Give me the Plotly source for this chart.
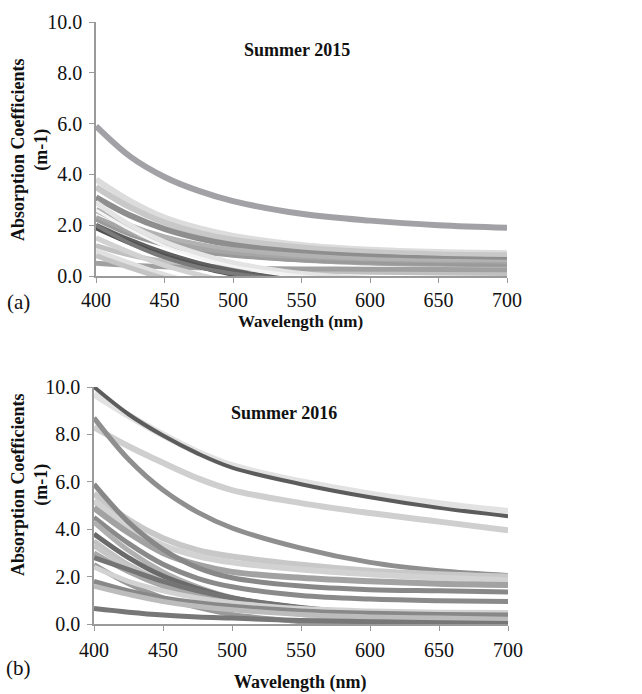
import plotly.graph_objects as go

wl = [400, 425, 450, 475, 500, 550, 600, 650, 700]

# Summer 2015 spectra (absorption coefficient, m-1) read at wl
s15 = [
    [5.9, 4.7, 3.9, 3.35, 2.95, 2.45, 2.18, 2.0, 1.9],
    [3.8, 2.95, 2.3, 1.88, 1.58, 1.22, 1.03, 0.94, 0.9],
    [3.5, 2.7, 2.1, 1.7, 1.43, 1.12, 0.94, 0.85, 0.82],
    [3.1, 2.38, 1.85, 1.48, 1.22, 0.93, 0.77, 0.68, 0.63],
    [2.6, 1.97, 1.52, 1.22, 1.01, 0.78, 0.63, 0.56, 0.52],
    [2.3, 1.76, 1.36, 1.07, 0.87, 0.63, 0.51, 0.46, 0.44],
    [2.2, 1.6, 1.2, 0.94, 0.78, 0.6, 0.51, 0.45, 0.42],
    [1.2, 0.82, 0.57, 0.42, 0.32, 0.21, 0.15, 0.12, 0.1],
    [0.5, 0.42, 0.36, 0.32, 0.3, 0.28, 0.27, 0.26, 0.25],
    [2.9, 2.0, 1.35, 0.88, 0.52, 0.1, -0.1, -0.2, -0.3],
    [2.0, 1.4, 0.9, 0.5, 0.2, -0.2, -0.4, -0.5, -0.6],
    [1.9, 1.3, 0.78, 0.38, 0.07, -0.3, -0.5, -0.6, -0.7],
    [2.0, 1.28, 0.73, 0.35, 0.1, -0.2, -0.4, -0.5, -0.6],
    [2.6, 1.82, 1.18, 0.72, 0.38, 0.0, -0.2, -0.3, -0.4],
    [1.5, 0.92, 0.42, 0.05, -0.25, -0.6, -0.8, -0.9, -1.0],
    [1.0, 0.5, 0.05, -0.3, -0.5, -0.8, -1.0, -1.1, -1.2],
    [0.8, 0.32, -0.1, -0.4, -0.6, -0.9, -1.1, -1.2, -1.3],
]
c15 = ["#a2a2a6", "#dcdcdc", "#c8c8c8", "#8e8e8e", "#b2b2b2", "#a6a6a6",
       "#9a9a9a", "#c0c0c0", "#a0a0a0", "#e4e4e4", "#606060", "#505050",
       "#7a7a7a", "#f4f4f4", "#d2d2d2", "#e0e0e0", "#c4c4c4"]
w15 = [6, 6, 6, 6, 6, 5, 3, 5, 5, 5, 5, 5, 4, 3, 5, 5, 5]

# Summer 2016 spectra
s16 = [
    [9.7, 8.8, 7.98, 7.25, 6.68, 6.0, 5.48, 5.08, 4.75],
    [10.0, 8.85, 7.95, 7.2, 6.6, 5.9, 5.35, 4.9, 4.55],
    [8.3, 7.5, 6.8, 6.15, 5.65, 5.1, 4.68, 4.32, 3.95],
    [8.7, 6.95, 5.65, 4.72, 4.05, 3.2, 2.6, 2.25, 2.05],
    [5.5, 4.4, 3.62, 3.12, 2.85, 2.5, 2.25, 2.1, 2.0],
    [5.2, 4.1, 3.32, 2.87, 2.6, 2.3, 2.1, 1.95, 1.85],
    [4.9, 3.85, 3.0, 2.5, 2.2, 1.95, 1.8, 1.7, 1.65],
    [5.9, 4.3, 3.15, 2.38, 1.95, 1.6, 1.45, 1.4, 1.35],
    [4.5, 3.4, 2.52, 1.93, 1.57, 1.2, 1.05, 0.98, 0.95],
    [4.3, 3.1, 2.2, 1.57, 1.12, 0.65, 0.45, 0.4, 0.4],
    [3.8, 2.8, 2.02, 1.5, 1.1, 0.68, 0.43, 0.28, 0.18],
    [3.5, 2.5, 1.8, 1.35, 1.0, 0.6, 0.45, 0.4, 0.35],
    [3.3, 2.4, 1.7, 1.2, 0.85, 0.4, 0.15, 0.0, -0.1],
    [3.0, 2.2, 1.6, 1.2, 0.9, 0.5, 0.3, 0.2, 0.15],
    [2.8, 2.3, 1.8, 1.4, 1.1, 0.7, 0.45, 0.3, 0.25],
    [2.5, 1.7, 1.1, 0.7, 0.4, 0.1, -0.1, -0.2, -0.3],
    [2.4, 1.8, 1.4, 1.1, 0.9, 0.65, 0.55, 0.5, 0.48],
    [1.8, 1.4, 1.1, 0.9, 0.75, 0.55, 0.45, 0.4, 0.38],
    [1.6, 1.25, 0.95, 0.75, 0.6, 0.4, 0.3, 0.25, 0.2],
    [0.65, 0.5, 0.38, 0.3, 0.25, 0.15, 0.1, 0.05, 0.02],
]
c16 = ["#e2e2e2", "#5c5c5c", "#cfcfcf", "#8f8f8f", "#c8c8c8", "#d2d2d2",
       "#a2a2a2", "#888888", "#8a8a8a", "#b0b0b0", "#6a6a6a", "#c2c2c2",
       "#c6c6c6", "#a8a8a8", "#747474", "#9a9a9a", "#d2d2d2", "#888888",
       "#bcbcbc", "#777777"]
w16 = [7, 4, 6, 5, 6, 6, 6, 5, 5, 5, 5, 5, 5, 5, 5, 5, 5, 5, 5, 5]

fig = go.Figure()
for ys, c, w in zip(s15, c15, w15):
    fig.add_trace(go.Scatter(x=wl, y=ys, mode="lines", line=dict(color=c, width=w, shape="spline"),
                             xaxis="x", yaxis="y", showlegend=False))
for ys, c, w in zip(s16, c16, w16):
    fig.add_trace(go.Scatter(x=wl, y=ys, mode="lines", line=dict(color=c, width=w, shape="spline"),
                             xaxis="x2", yaxis="y2", showlegend=False))

W, H = 642, 694
font = "Liberation Serif, Times New Roman, serif"
ax_common = dict(showgrid=False, zeroline=False, showline=True, linecolor="#9a9a9a", linewidth=1.5,
                 ticks="outside", ticklen=5, tickcolor="#9a9a9a", automargin=False,
                 tickfont=dict(family=font, size=20, color="#111"))
xticks = [400, 450, 500, 550, 600, 650, 700]
yticks = [0, 2, 4, 6, 8, 10]
ytext = ["0.0", "2.0", "4.0", "6.0", "8.0", "10.0"]

fig.update_layout(
    template="none",
    width=W, height=H, margin=dict(l=0, r=0, t=0, b=0, pad=0), autosize=False,
    plot_bgcolor="white", paper_bgcolor="white",
    xaxis=dict(domain=[96 / W, 507 / W], range=[400, 700], tickvals=xticks, anchor="y",
               ticklabelstandoff=0, **ax_common),
    yaxis=dict(domain=[1 - 276 / H, 1 - 22 / H], range=[0, 10], tickvals=yticks, ticktext=ytext,
               anchor="x", ticklabelstandoff=3, **ax_common),
    xaxis2=dict(domain=[94 / W, 508 / W], range=[400, 700], tickvals=xticks, anchor="y2",
                ticklabelstandoff=2, **ax_common),
    yaxis2=dict(domain=[1 - 624 / H, 1 - 387 / H], range=[0, 10], tickvals=yticks, ticktext=ytext,
                anchor="x2", ticklabelstandoff=3, **ax_common),
)

def ann(text, x, y, size, bold=True, angle=0):
    fig.add_annotation(text=f"<b>{text}</b>" if bold else text, x=x / W, y=1 - y / H,
                       xref="paper", yref="paper", showarrow=False, textangle=angle,
                       font=dict(family=font, size=size, color="#111"),
                       xanchor="center", yanchor="middle")

ann("Summer 2015", 297, 50, 18)
ann("Summer 2016", 284, 413, 18)
ann("Absorption Coefficients<br>(m-1)", 30, 150, 18, angle=-90)
ann("Absorption Coefficients<br>(m-1)", 30, 485, 18, angle=-90)
ann("Wavelength (nm)", 300, 322, 17)
ann("Wavelength (nm)", 300, 682, 18)
ann("(a)", 18, 302, 21, bold=False)
ann("(b)", 18, 668, 21, bold=False)

fig.write_html("out.html")
